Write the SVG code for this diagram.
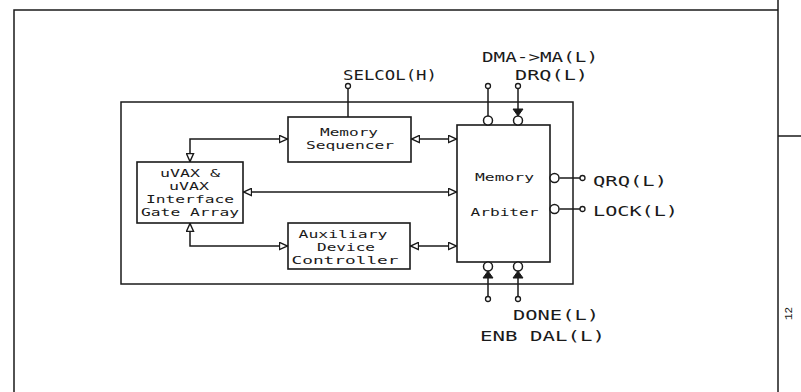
<svg xmlns="http://www.w3.org/2000/svg" width="801" height="392" viewBox="0 0 801 392">
<defs>
<style>
.ln{fill:none;stroke:#1a1a1a;stroke-width:1.5}
.box{fill:#fff;stroke:#1a1a1a;stroke-width:1.6}
.bub{fill:#fff;stroke:#1a1a1a;stroke-width:1.5}
.term{fill:#fff;stroke:#1a1a1a;stroke-width:1.3}
.tri{fill:#1a1a1a;stroke:#1a1a1a;stroke-width:1}
.lbl{font-family:"DejaVu Sans Mono","Liberation Mono",monospace;font-size:14.5px;fill:#1a1a1a}
.in{font-family:"DejaVu Sans Mono","Liberation Mono",monospace;font-size:11px;fill:#1a1a1a;text-anchor:middle}
</style>
<marker id="ar" viewBox="0 0 10 10" refX="10" refY="5" markerWidth="9" markerHeight="9" markerUnits="userSpaceOnUse" orient="auto-start-reverse">
<path d="M0.5,1 L9.5,5 L0.5,9 Z" fill="#fff" stroke="#1a1a1a" stroke-width="1.6"/>
</marker>
</defs>
<rect width="801" height="392" fill="#fff"/>
<g id="frame">
<path class="ln" d="M14,392 V10 H778"/>
<path class="ln" d="M778,0 V392" stroke-width="2"/>
<path class="ln" d="M778,136 H801"/>
<text x="792" y="320" transform="rotate(-90 792 320)" style="font-family:'Liberation Mono',monospace;font-size:11px;fill:#1a1a1a">12</text>
</g>
<g id="module">
<rect class="ln" x="121" y="102" width="452" height="182"/>
</g>
<g id="connectors">
<path class="ln" d="M190,162 V139 H288" marker-start="url(#ar)" marker-end="url(#ar)"/>
<path class="ln" d="M411,139 H457" marker-start="url(#ar)" marker-end="url(#ar)"/>
<path class="ln" d="M243,192 H457" marker-start="url(#ar)" marker-end="url(#ar)"/>
<path class="ln" d="M190,223 V246 H288" marker-start="url(#ar)" marker-end="url(#ar)"/>
<path class="ln" d="M410,246 H457" marker-start="url(#ar)" marker-end="url(#ar)"/>
<path class="ln" d="M348,88.5 V117"/>
<path class="ln" d="M488,88.5 V116"/>
<path class="ln" d="M518,88.5 V110"/>
<path class="ln" d="M559.5,178 H580"/>
<path class="ln" d="M559.5,209 H580"/>
<path class="ln" d="M488,278 V296.5"/>
<path class="ln" d="M518,278 V296.5"/>
</g>
<g id="sequencer">
<rect class="box" x="288" y="117" width="123" height="45"/>
<text class="in"><tspan x="349" y="135.5" textLength="58" lengthAdjust="spacingAndGlyphs">Memory</tspan><tspan x="350" y="148.5" textLength="88" lengthAdjust="spacingAndGlyphs">Sequencer</tspan></text>
</g>
<g id="gatearray">
<rect class="box" x="137" y="162" width="106" height="61"/>
<text class="in"><tspan x="190" y="176.5" textLength="60" lengthAdjust="spacingAndGlyphs">uVAX &amp;</tspan><tspan x="189" y="189.5" textLength="40" lengthAdjust="spacingAndGlyphs">uVAX</tspan><tspan x="190" y="202.5" textLength="88" lengthAdjust="spacingAndGlyphs">Interface</tspan><tspan x="190" y="215.5" textLength="98" lengthAdjust="spacingAndGlyphs">Gate Array</tspan></text>
</g>
<g id="auxiliary">
<rect class="box" x="288" y="223" width="122" height="46"/>
<text class="in"><tspan x="343" y="237.5" textLength="89" lengthAdjust="spacingAndGlyphs">Auxiliary</tspan><tspan x="346" y="250.5" textLength="58" lengthAdjust="spacingAndGlyphs">Device</tspan><tspan x="345" y="263.5" textLength="107" lengthAdjust="spacingAndGlyphs">Controller</tspan></text>
</g>
<g id="arbiter">
<rect class="box" x="457" y="125" width="93" height="137"/>
<text class="in" x="504.5" y="181" textLength="59" lengthAdjust="spacingAndGlyphs">Memory</text>
<text class="in" x="504.5" y="216" textLength="68" lengthAdjust="spacingAndGlyphs">Arbiter</text>
<circle class="bub" cx="488" cy="120.5" r="4.5"/>
<circle class="bub" cx="518" cy="120.5" r="4.5"/>
<circle class="bub" cx="554.5" cy="178" r="4.5"/>
<circle class="bub" cx="554.5" cy="209" r="4.5"/>
<circle class="bub" cx="488" cy="266.5" r="4.5"/>
<circle class="bub" cx="518" cy="266.5" r="4.5"/>
<polygon class="tri" points="513,109 523,109 518,116"/>
<polygon class="tri" points="483,278 493,278 488,271"/>
<polygon class="tri" points="513,278 523,278 518,271"/>
</g>
<g id="sig-selcol">
<circle class="term" cx="348" cy="86" r="2.5"/>
<text class="lbl" x="343" y="80" textLength="94" lengthAdjust="spacingAndGlyphs">SELCOL(H)</text>
</g>
<g id="sig-dma">
<circle class="term" cx="488" cy="86" r="2.5"/>
<text class="lbl" x="482" y="62" textLength="116" lengthAdjust="spacingAndGlyphs">DMA-&gt;MA(L)</text>
</g>
<g id="sig-drq">
<circle class="term" cx="518" cy="86" r="2.5"/>
<text class="lbl" x="515" y="80" textLength="73" lengthAdjust="spacingAndGlyphs">DRQ(L)</text>
</g>
<g id="sig-qrq">
<circle class="term" cx="582.5" cy="178" r="2.5"/>
<text class="lbl" x="593" y="186" textLength="74" lengthAdjust="spacingAndGlyphs">QRQ(L)</text>
</g>
<g id="sig-lock">
<circle class="term" cx="582.5" cy="209" r="2.5"/>
<text class="lbl" x="593" y="216" textLength="85" lengthAdjust="spacingAndGlyphs">LOCK(L)</text>
</g>
<g id="sig-done">
<circle class="term" cx="518" cy="299" r="2.5"/>
<text class="lbl" x="513" y="320" textLength="86" lengthAdjust="spacingAndGlyphs">DONE(L)</text>
</g>
<g id="sig-enb">
<circle class="term" cx="488" cy="299" r="2.5"/>
<text class="lbl" x="480" y="341" textLength="125" lengthAdjust="spacingAndGlyphs">ENB DAL(L)</text>
</g>
</svg>
